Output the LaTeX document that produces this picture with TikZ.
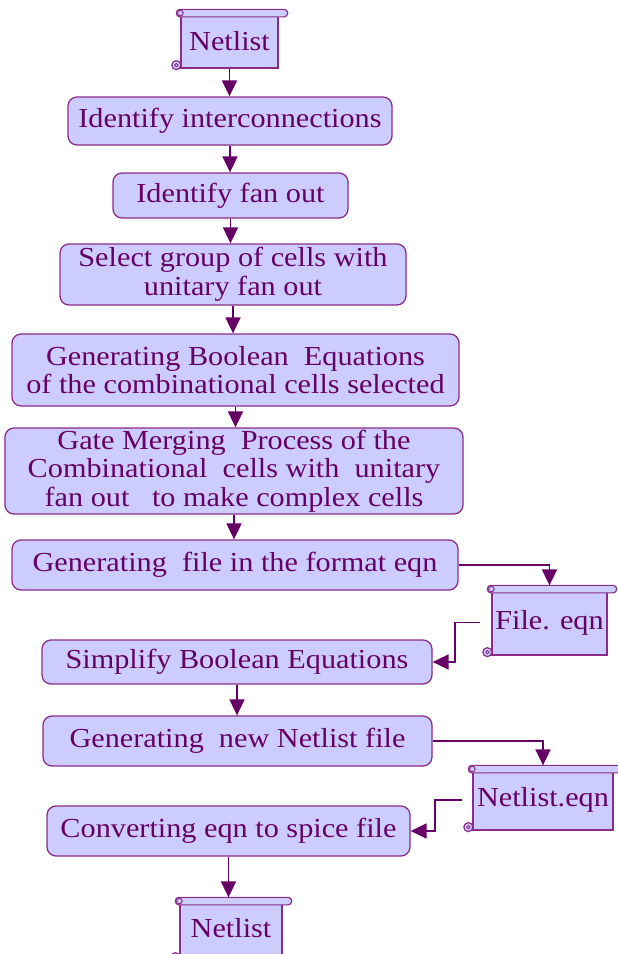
\documentclass[tikz,border=0pt]{standalone}
\usepackage{fontspec}
\setmainfont{Liberation Serif}[FakeStretch=1.1]
\usetikzlibrary{arrows.meta,calc}
\definecolor{boxfill}{HTML}{CCCCFF}
\definecolor{boxline}{HTML}{8A2D8A}
\definecolor{ink}{HTML}{660066}

\tikzset{
  x=1pt, y=-1pt,
  txt/.style={text=ink, font=\fontsize{27.5}{28.5}\selectfont, align=center, inner sep=0pt},
  stepbox/.style={txt, draw=boxline, fill=boxfill, line width=1.3pt, rounded corners=9pt},
  scrollbody/.style={txt, draw=boxline, fill=boxfill, line width=1.3pt},
  flow/.style={draw=ink, line width=1.8pt, -{Triangle[width=15pt,length=16pt]}},
  trim/.style={draw=boxline, fill=boxfill, line width=1.2pt},
}

% roll and curls of a scroll-shaped node
\newcommand\scrolltrim[1]{%
  \filldraw[trim, rounded corners=3.5pt]
    ($(#1.north west)+(-4,-4)$) rectangle ($(#1.north east)+(9,3.5)$);
  \filldraw[trim, line width=1pt] ($(#1.north west)+(0,-0.3)$) circle (2.8pt);
  \filldraw[trim] ($(#1.south west)+(-4,-3.5)$) circle (4.5pt);
  \draw[boxline, line width=0.9pt] ($(#1.south west)+(-4,-3.5)$) circle (1.8pt);
}

\begin{document}
\begin{tikzpicture}
\useasboundingbox (0,0) rectangle (618,954);

% scrolls (files)
\node[scrollbody, minimum width=97pt, minimum height=54pt] (s1) at (229.5,41) {Netlist};
\scrolltrim{s1}
\node[scrollbody, minimum width=115pt, minimum height=65pt] (s8) at (549.5,622.5) {File. eqn};
\scrolltrim{s8}
\node[scrollbody, minimum width=140pt, minimum height=60pt] (s11) at (543,800) {Netlist.eqn};
\scrolltrim{s11}
\node[scrollbody, minimum width=102pt, minimum height=58pt, text depth=0pt] (s13) at (231,931) {\raisebox{6pt}{Netlist}};
\scrolltrim{s13}

% process steps
\node[stepbox, minimum width=324pt, minimum height=48pt] (b2) at (230,121) {Identify interconnections};
\node[stepbox, minimum width=235pt, minimum height=45pt] (b3) at (230.5,195.5) {Identify fan out};
\node[stepbox, minimum width=346pt, minimum height=61pt] (b4) at (233,274.5) {Select group of cells with\\unitary fan out};
\node[stepbox, minimum width=447pt, minimum height=72pt] (b5) at (235.5,370) {Generating Boolean\ \ Equations\\of the combinational cells selected};
\node[stepbox, minimum width=458pt, minimum height=86pt] (b6) at (234,471) {Gate Merging\ \ Process of the\\Combinational\ \ cells with\ \ unitary\\fan out\ \ \ to make complex cells};
\node[stepbox, minimum width=446pt, minimum height=50pt] (b7) at (235,565) {Generating\ \ file in the format eqn};
\node[stepbox, minimum width=390pt, minimum height=44pt] (b9) at (237,662) {Simplify Boolean Equations};
\node[stepbox, minimum width=389pt, minimum height=50pt] (b10) at (237.5,741) {Generating\ \ new Netlist file};
\node[stepbox, minimum width=363pt, minimum height=50pt] (b12) at (228.5,831) {Converting eqn to spice file};

% connectors
\draw[flow] (s1.south) -- (s1.south |- b2.north);
\draw[flow] (b2.south) -- (b2.south |- b3.north);
\draw[flow] (b3.south) -- (b3.south |- b4.north);
\draw[flow] (b4.south) -- (b4.south |- b5.north);
\draw[flow] (b5.south) -- (b5.south |- b6.north);
\draw[flow] (b6.south) -- (b6.south |- b7.north);
\draw[flow, shorten >=4pt] (b7.east) -| (s8.north);
\draw[flow, shorten <=11pt] (s8.west) -- ++(-36,0) |- (b9.east);
\draw[flow] (b9.south) -- (b9.south |- b10.north);
\draw[flow, shorten >=4pt] (b10.east) -| (s11.north);
\draw[flow, shorten <=10pt] (s11.west) -- ++(-37,0) |- (b12.east);
\draw[flow, shorten >=4pt] (b12.south) -- (b12.south |- s13.north);
\end{tikzpicture}
\end{document}
